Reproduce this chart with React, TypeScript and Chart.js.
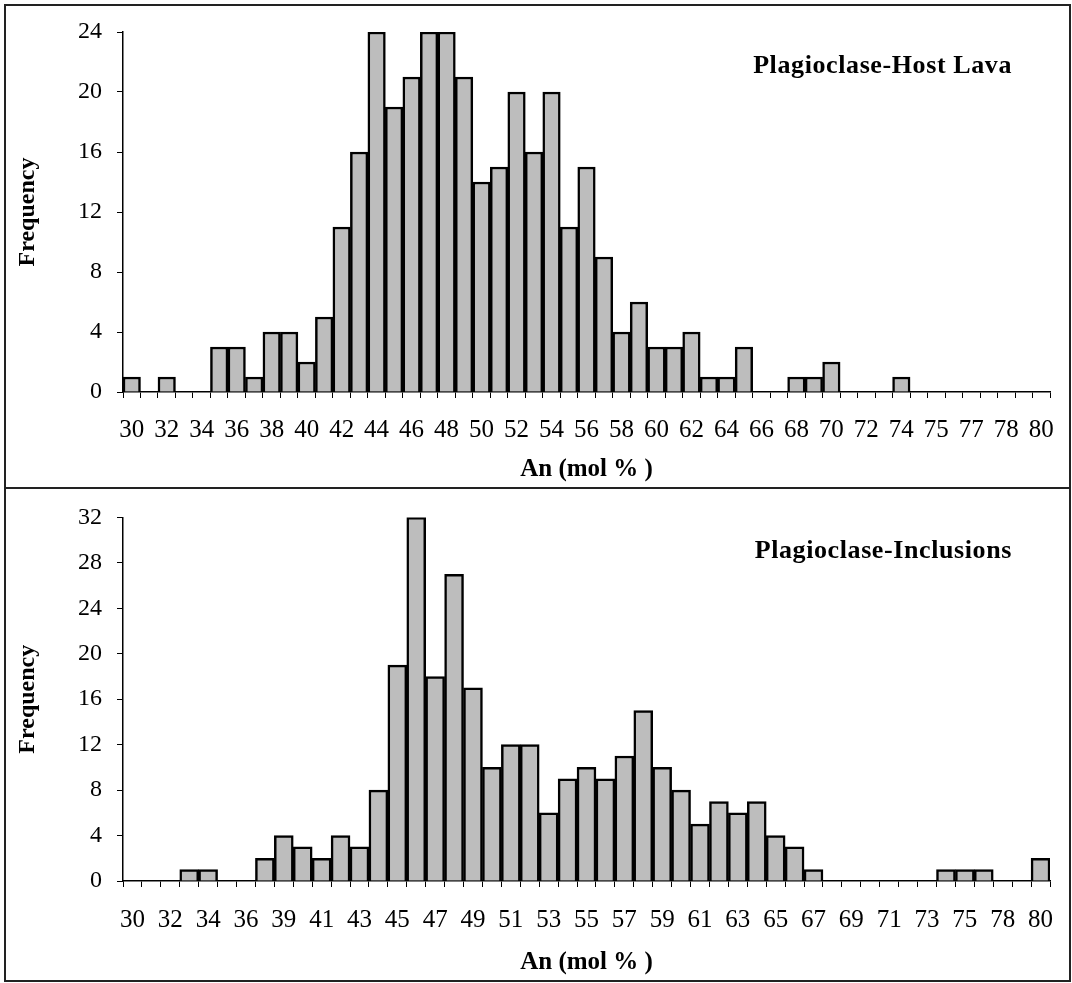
import React, { useEffect, useRef } from 'react';
import { Chart, registerables } from 'chart.js';

Chart.register(...registerables);

// ---------- Data ----------
const hostLavaLabels: string[] = [
  '30', '31', '32', '33', '34', '35', '36', '37', '38', '39',
  '40', '41', '42', '43', '44', '45', '46', '47', '48', '49',
  '50', '51', '52', '53', '54', '55', '56', '57', '58', '59',
  '60', '61', '62', '63', '64', '65', '66', '67', '68', '69',
  '70', '71', '72', '73', '74', '75', '75', '76', '77', '78',
  '78', '79', '80',
];
const hostLavaCounts: number[] = [
  1, 0, 1, 0, 0, 3, 3, 1, 4, 4,
  2, 5, 11, 16, 24, 19, 21, 24, 24, 21,
  14, 15, 20, 16, 20, 11, 15, 9, 4, 6,
  3, 3, 4, 1, 1, 3, 0, 0, 1, 1,
  2, 0, 0, 0, 1, 0, 0, 0, 0, 0,
  0, 0, 0,
];

const inclusionLabels: string[] = [
  '30', '31', '32', '33', '34', '35', '36', '38', '39', '40',
  '41', '42', '43', '44', '45', '46', '47', '48', '49', '50',
  '51', '52', '53', '54', '55', '56', '57', '58', '59', '60',
  '61', '62', '63', '64', '65', '66', '67', '68', '69', '70',
  '71', '72', '73', '74', '75', '77', '78', '79', '80',
];
const inclusionCounts: number[] = [
  0, 0, 0, 1, 1, 0, 0, 2, 4, 3,
  2, 4, 3, 8, 19, 32, 18, 27, 17, 10,
  12, 12, 6, 9, 10, 9, 11, 15, 10, 8,
  5, 7, 6, 7, 4, 3, 1, 0, 0, 0,
  0, 0, 0, 1, 1, 1, 0, 0, 2,
];

const hostLavaYTicks = { max: 24, step: 4 };
const inclusionYTicks = { max: 32, step: 4 };

const xTitle = 'An (mol % )';
const yTitle = 'Frequency';
const panelTitles = ['Plagioclase-Host Lava', 'Plagioclase-Inclusions'];

// ---------- Styling ----------
const FONT = "'Liberation Serif', 'Times New Roman', serif";
const BAR_FILL = '#bdbdbd';

interface PanelProps {
  labels: string[];
  values: number[];
  yMax: number;
  yStep: number;
  width: number;
  height: number;
  padTop: number;
  xAxisHeight: number;
  xTitlePadBottom: number;
  xTickPad: number;
}

function Panel(props: PanelProps) {
  const ref = useRef<HTMLCanvasElement | null>(null);
  useEffect(() => {
    if (!ref.current) return;
    const { labels, values } = props;
    const chart = new Chart(ref.current, {
      type: 'bar',
      data: {
        labels,
        datasets: [
          {
            data: values,
            backgroundColor: BAR_FILL,
            borderColor: '#000',
            borderWidth: 2.5,
            categoryPercentage: 1,
            barPercentage: 1,
          },
        ],
      },
      options: {
        animation: false,
        responsive: false,
        maintainAspectRatio: false,
        devicePixelRatio: 1,
        layout: { padding: { left: 0, right: 22, top: props.padTop, bottom: 0 } },
        plugins: {
          legend: { display: false },
          tooltip: { enabled: false },
          title: { display: false },
        },
        scales: {
          x: {
            offset: true,
            grid: {
              display: true,
              offset: true,
              drawOnChartArea: false,
              drawTicks: true,
              tickLength: 6,
              color: '#000',
              lineWidth: 1,
            },
            border: { display: true, color: '#000', width: 1.5 },
            ticks: {
              autoSkip: false,
              maxRotation: 0,
              minRotation: 0,
              color: '#000',
              padding: props.xTickPad,
              font: { family: FONT, size: 25 },
              callback: (_v: any, i: number) => (i % 2 === 0 ? labels[i] : ''),
            },
            title: {
              display: true,
              text: xTitle,
              color: '#000',
              font: { family: FONT, size: 25, weight: 'bold' },
              padding: { top: 0, bottom: props.xTitlePadBottom },
            },
            afterFit: (s: any) => {
              s.height = props.xAxisHeight;
            },
          },
          y: {
            min: 0,
            max: props.yMax,
            grid: {
              display: true,
              drawOnChartArea: false,
              drawTicks: true,
              tickLength: 6,
              color: '#000',
              lineWidth: 1,
            },
            border: { display: true, color: '#000', width: 1.5 },
            ticks: {
              stepSize: props.yStep,
              color: '#000',
              padding: 15,
              font: { family: FONT, size: 24 },
            },
            title: {
              display: true,
              text: yTitle,
              color: '#000',
              font: { family: FONT, size: 24, weight: 'bold' },
              padding: { top: 13, bottom: 0 },
            },
            afterFit: (s: any) => {
              s.width = 123;
            },
          },
        },
      },
    } as any);
    return () => chart.destroy();
  }, []);
  return (
    <canvas
      ref={ref}
      width={props.width}
      height={props.height}
      style={{ display: 'block', width: props.width, height: props.height }}
    />
  );
}

export default function App() {
  const titleStyle: React.CSSProperties = {
    position: 'absolute',
    left: 0,
    width: 1012,
    textAlign: 'right',
    fontFamily: FONT,
    fontWeight: 'bold',
    fontSize: 26,
    letterSpacing: '0.6px',
    lineHeight: '30px',
    color: '#000',
    whiteSpace: 'nowrap',
  };
  return (
    <div
      style={{
        position: 'absolute',
        left: 0,
        top: 0,
        width: 1072,
        height: 983,
        background: '#fff',
        overflow: 'hidden',
      }}
    >
      <div style={{ position: 'absolute', left: 0, top: 0 }}>
        <Panel
          labels={hostLavaLabels}
          values={hostLavaCounts}
          yMax={hostLavaYTicks.max}
          yStep={hostLavaYTicks.step}
          width={1072}
          height={488}
          padTop={32}
          xAxisHeight={96}
          xTitlePadBottom={3}
          xTickPad={17}
        />
      </div>
      <div style={{ position: 'absolute', left: 0, top: 488 }}>
        <Panel
          labels={inclusionLabels}
          values={inclusionCounts}
          yMax={inclusionYTicks.max}
          yStep={inclusionYTicks.step}
          width={1072}
          height={495}
          padTop={27}
          xAxisHeight={102}
          xTitlePadBottom={5}
          xTickPad={18}
        />
      </div>
      <div style={{ ...titleStyle, top: 50 }}>{panelTitles[0]}</div>
      <div style={{ ...titleStyle, top: 535 }}>{panelTitles[1]}</div>
      <div
        style={{
          position: 'absolute',
          left: 4,
          top: 4,
          width: 1067,
          height: 978,
          border: '2px solid #222',
          boxSizing: 'border-box',
        }}
      />
      <div
        style={{
          position: 'absolute',
          left: 4,
          top: 487,
          width: 1067,
          height: 2,
          background: '#222',
        }}
      />
    </div>
  );
}
